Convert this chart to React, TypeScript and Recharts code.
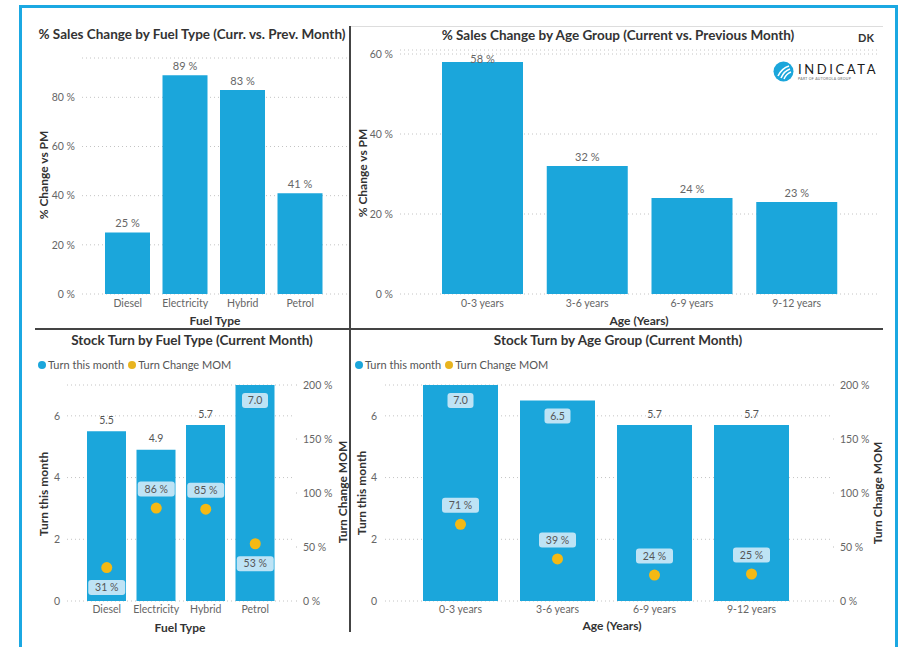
import { BarChart, Bar, ComposedChart, Line, XAxis, YAxis, CartesianGrid, LabelList } from "recharts";

// values
const fuelTypes = ["Diesel", "Electricity", "Hybrid", "Petrol"];
const fuelSalesChange = [25, 89, 83, 41];
const ageGroups = ["0-3 years", "3-6 years", "6-9 years", "9-12 years"];
const ageSalesChange = [58, 32, 24, 23];
const fuelTurn = [5.5, 4.9, 5.7, 7.0];
const fuelTurnChange = [31, 86, 85, 53];
const ageTurn = [7.0, 6.5, 5.7, 5.7];
const ageTurnChange = [71, 39, 24, 25];

const fuelPctTicks = [0, 20, 40, 60, 80];
const agePctTicks = [0, 20, 40, 60];
const turnTicks = [0, 2, 4, 6];
const changeTicks = [0, 50, 100, 150, 200];

// where the MOM label box sits relative to its dot
const fuelChangeLabelSide = ["below", "above", "above", "below"];
const ageChangeLabelSide = ["above", "above", "above", "above"];

const BLUE = "#1BA6DB";
const YELLOW = "#F4B914";
const BOX = "#BEE3F5";
const GRID = "#c4c4c4";
const TICK = "#666";
const DARK = "#333";
const FONT = "Lato, 'DejaVu Sans', sans-serif";

const fuelSalesData = fuelTypes.map((name, i) => ({ name, value: fuelSalesChange[i] }));
const ageSalesData = ageGroups.map((name, i) => ({ name, value: ageSalesChange[i] }));
const fuelTurnData = fuelTypes.map((name, i) => ({ name, turn: fuelTurn[i], change: fuelTurnChange[i] }));
const ageTurnData = ageGroups.map((name, i) => ({ name, turn: ageTurn[i], change: ageTurnChange[i] }));

const tickStyle = { fill: TICK, fontSize: 10.5, fontFamily: FONT };

const pctLabel = (minY: number) => (props: any) => {
  const { x, y, width, value } = props;
  const ty = Math.max(Number(y) - 9, minY);
  return (
    <text x={Number(x) + Number(width) / 2} y={ty} dy="0.35em" textAnchor="middle" fill={TICK} fontSize={11} fontFamily={FONT}>
      {value} %
    </text>
  );
};

const turnLabel = (plotTop: number) => (props: any) => {
  const { x, y, width, value } = props;
  const cx = Number(x) + Number(width) / 2;
  const txt = Number(value).toFixed(1);
  if (Number(y) - 20 < plotTop) {
    return (
      <g>
        <rect x={cx - 13} y={Number(y) + 8} width={26} height={15} rx={3} fill={BOX} />
        <text x={cx} y={Number(y) + 15.5} dy="0.35em" textAnchor="middle" fill="#555" fontSize={10.5} fontFamily={FONT}>
          {txt}
        </text>
      </g>
    );
  }
  return (
    <text x={cx} y={Number(y) - 11} dy="0.35em" textAnchor="middle" fill="#555" fontSize={10.5} fontFamily={FONT}>
      {txt}
    </text>
  );
};

const changeLabel = (sides: string[]) => (props: any) => {
  const { x, y, value, index } = props;
  const cy = sides[index] === "below" ? Number(y) + 20 : Number(y) - 19;
  return (
    <g>
      <rect x={Number(x) - 18.5} y={cy - 7.5} width={37} height={15} rx={3} fill={BOX} />
      <text x={x} y={cy} dy="0.35em" textAnchor="middle" fill="#555" fontSize={10.5} fontFamily={FONT}>
        {value} %
      </text>
    </g>
  );
};

const Abs = ({ x, y, children, style }: any) => (
  <div style={{ position: "absolute", left: x, top: y, transform: "translate(-50%, -50%)", whiteSpace: "nowrap", fontFamily: FONT, ...style }}>
    {children}
  </div>
);

const Title = ({ x, y, children }: any) => (
  <Abs x={x} y={y} style={{ fontSize: 13.5, fontWeight: 700, color: DARK }}>{children}</Abs>
);

const AxisTitle = ({ x, y, rotate, children }: any) => (
  <Abs
    x={x}
    y={y}
    style={{ fontSize: 12, fontWeight: 700, color: DARK, transform: `translate(-50%, -50%)${rotate ? " rotate(-90deg)" : ""}` }}
  >
    {children}
  </Abs>
);

const Legend2 = ({ x, y }: any) => (
  <div style={{ position: "absolute", left: x, top: y - 7, display: "flex", alignItems: "center", fontFamily: FONT, fontSize: 11, color: "#555", whiteSpace: "nowrap" }}>
    <span style={{ width: 8, height: 8, borderRadius: 4, background: BLUE, marginRight: 2 }} />
    <span style={{ marginRight: 4 }}>Turn this month</span>
    <span style={{ width: 8, height: 8, borderRadius: 4, background: "#E8B420", marginRight: 2 }} />
    <span>Turn Change MOM</span>
  </div>
);

const SalesChart = ({ data, left, width, margin, domain, ticks, barSize, padding, minLabelY }: any) => (
  <div style={{ position: "absolute", left, top: 0 }}>
    <BarChart width={width} height={330} data={data} margin={margin}>
      <CartesianGrid vertical={false} stroke={GRID} strokeDasharray="1 3" />
      <XAxis dataKey="name" axisLine={false} tickLine={false} tickSize={0} tickMargin={6} height={30} padding={padding} interval={0} tick={tickStyle} />
      <YAxis
        domain={domain}
        ticks={ticks}
        allowDataOverflow
        axisLine={false}
        tickLine={false}
        tickSize={0}
        tickMargin={7}
        width={40}
        tickFormatter={(v: number) => `${v} %`}
        tick={tickStyle}
      />
      <Bar dataKey="value" fill={BLUE} barSize={barSize} isAnimationActive={false}>
        <LabelList dataKey="value" content={pctLabel(minLabelY)} />
      </Bar>
    </BarChart>
  </div>
);

const TurnChart = ({ data, left, width, margin, leftWidth, leftMargin, rightWidth, barSize, padding, sides }: any) => (
  <div style={{ position: "absolute", left, top: 330 }}>
    <ComposedChart width={width} height={317} data={data} margin={margin}>
      <CartesianGrid vertical={false} yAxisId="left" stroke={GRID} strokeDasharray="1 3" />
      <XAxis dataKey="name" axisLine={false} tickLine={false} tickSize={0} tickMargin={5} height={30} padding={padding} interval={0} tick={tickStyle} />
      <YAxis
        yAxisId="left"
        domain={[0, 7]}
        ticks={turnTicks}
        allowDataOverflow
        axisLine={false}
        tickLine={false}
        tickSize={0}
        tickMargin={leftMargin}
        width={leftWidth}
        tick={tickStyle}
      />
      <YAxis
        yAxisId="right"
        orientation="right"
        domain={[0, 200]}
        ticks={changeTicks}
        allowDataOverflow
        axisLine={false}
        tickLine={{ stroke: "#bbb", strokeDasharray: "1 3" }}
        tickSize={4}
        tickMargin={6}
        width={rightWidth}
        tickFormatter={(v: number) => `${v} %`}
        tick={tickStyle}
      />
      <Bar yAxisId="left" dataKey="turn" fill={BLUE} barSize={barSize} isAnimationActive={false}>
        <LabelList dataKey="turn" content={turnLabel(margin.top)} />
      </Bar>
      <Line
        yAxisId="right"
        dataKey="change"
        stroke="none"
        dot={{ r: 5.5, fill: YELLOW, stroke: "none" }}
        activeDot={false}
        isAnimationActive={false}
      >
        <LabelList dataKey="change" content={changeLabel(sides)} />
      </Line>
    </ComposedChart>
  </div>
);

const Logo = () => (
  <div style={{ position: "absolute", left: 773, top: 61 }}>
    <svg width={21} height={21} viewBox="0 0 21 21" style={{ position: "absolute", left: 0, top: 0 }}>
      <circle cx={10.5} cy={10.5} r={10} fill={BLUE} />
      <path d="M5 15 Q9 7 16 5" stroke="#fff" strokeWidth={1.6} fill="none" />
      <path d="M8 17 Q11 10 17 8" stroke="#fff" strokeWidth={1.6} fill="none" />
      <path d="M11 18 Q13 13 18 11" stroke="#fff" strokeWidth={1.4} fill="none" />
    </svg>
    <div style={{ position: "absolute", left: 25, top: 2, fontFamily: FONT, fontSize: 13, lineHeight: "13px", letterSpacing: 2.6, color: "#1a1a1a", whiteSpace: "nowrap" }}>
      INDICATA
    </div>
    <div style={{ position: "absolute", left: 25, top: 16, fontFamily: FONT, fontSize: 3.5, lineHeight: "4px", letterSpacing: 0.3, color: "#666", whiteSpace: "nowrap" }}>
      PART OF AUTOROLA GROUP
    </div>
  </div>
);

export default function App() {
  return (
    <div style={{ position: "absolute", left: 0, top: 0, width: 899, height: 647, overflow: "hidden", background: "#fff" }}>
      {/* frame and dividers */}
      <div style={{ position: "absolute", left: 19, top: 5, width: 873, height: 700, border: "3px solid #1BA8E2" }} />
      <div style={{ position: "absolute", left: 350, top: 26, width: 533, height: 1, background: "#ddd" }} />
      <div style={{ position: "absolute", left: 349, top: 26, width: 2, height: 606, background: "#444" }} />
      <div style={{ position: "absolute", left: 35, top: 328, width: 848, height: 2, background: "#444" }} />

      <SalesChart
        data={fuelSalesData}
        left={0}
        width={350}
        margin={{ top: 58, right: 3, bottom: 6, left: 42 }}
        domain={[0, 96]}
        ticks={fuelPctTicks}
        barSize={45}
        padding={{ left: 17, right: 18 }}
        minLabelY={64}
      />
      <SalesChart
        data={ageSalesData}
        left={350}
        width={540}
        margin={{ top: 50, right: 12, bottom: 6, left: 10 }}
        domain={[0, 61]}
        ticks={agePctTicks}
        barSize={81}
        padding={{ left: 30, right: 29 }}
        minLabelY={59}
      />
      <TurnChart
        data={fuelTurnData}
        left={0}
        width={350}
        margin={{ top: 55, right: 7, bottom: 16, left: 37 }}
        leftWidth={30}
        leftMargin={7}
        rightWidth={50}
        barSize={39}
        padding={{ left: 15, right: 13 }}
        sides={fuelChangeLabelSide}
      />
      <TurnChart
        data={ageTurnData}
        left={350}
        width={540}
        margin={{ top: 55, right: 10, bottom: 16, left: 5 }}
        leftWidth={30}
        leftMargin={8}
        rightWidth={50}
        barSize={75}
        padding={{ left: 27, right: 30 }}
        sides={ageChangeLabelSide}
      />

      <Title x={192} y={34}>% Sales Change by Fuel Type (Curr. vs. Prev. Month)</Title>
      <Title x={618} y={35}>% Sales Change by Age Group (Current vs. Previous Month)</Title>
      <Title x={192} y={340}>Stock Turn by Fuel Type (Current Month)</Title>
      <Title x={618} y={340}>Stock Turn by Age Group (Current Month)</Title>

      <AxisTitle x={43} y={175} rotate>% Change vs PM</AxisTitle>
      <AxisTitle x={215} y={320}>Fuel Type</AxisTitle>
      <AxisTitle x={362} y={173} rotate>% Change vs PM</AxisTitle>
      <AxisTitle x={639} y={320}>Age (Years)</AxisTitle>

      <AxisTitle x={43} y={494} rotate>Turn this month</AxisTitle>
      <AxisTitle x={342} y={492} rotate>Turn Change MOM</AxisTitle>
      <AxisTitle x={180} y={627}>Fuel Type</AxisTitle>
      <AxisTitle x={361} y={493} rotate>Turn this month</AxisTitle>
      <AxisTitle x={877} y={493} rotate>Turn Change MOM</AxisTitle>
      <AxisTitle x={612} y={625}>Age (Years)</AxisTitle>

      <Legend2 x={38} y={365} />
      <Legend2 x={355} y={365} />

      <Abs x={866} y={37} style={{ fontSize: 11, fontWeight: 700, color: DARK }}>DK</Abs>
      <Logo />
    </div>
  );
}
